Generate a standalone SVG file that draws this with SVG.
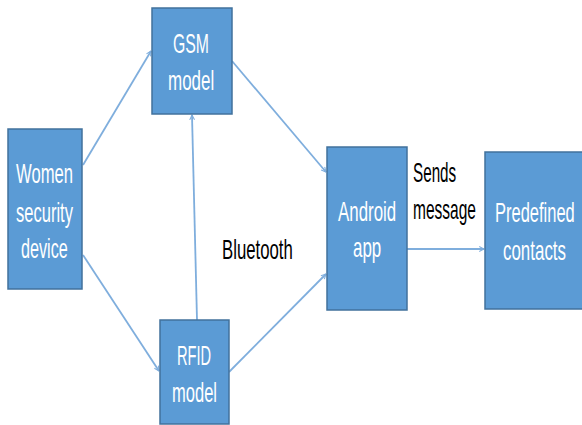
<svg xmlns="http://www.w3.org/2000/svg" width="582" height="425" viewBox="0 0 582 425">
  <style>
    .box { fill: #5B9BD5; stroke: #41719C; stroke-width: 1.5; }
    .lbl { font-family: "Liberation Sans", Arial, sans-serif; font-size: 27px; fill: #ffffff; }
    .note { font-family: "Liberation Sans", Arial, sans-serif; font-size: 27px; fill: #000000; }
    .link { stroke: #7FAEDD; stroke-width: 1.8; fill: none; marker-end: url(#tip); }
  </style>
  <defs>
    <marker id="tip" viewBox="0 0 10 10" refX="9" refY="5" markerWidth="6" markerHeight="6" markerUnits="userSpaceOnUse" orient="auto">
      <polyline points="1,1 9,5 1,9" fill="none" stroke="#7FAEDD" stroke-width="1.8"/>
    </marker>
  </defs>
  <rect width="582" height="425" fill="#ffffff"/>

  <g id="connectors">
    <line class="link" x1="83" y1="165" x2="151" y2="51"/>
    <line class="link" x1="83" y1="255" x2="159" y2="371"/>
    <line class="link" x1="197" y1="320" x2="192" y2="115"/>
    <line class="link" x1="232" y1="61" x2="326" y2="172"/>
    <line class="link" x1="229" y1="372" x2="326" y2="274"/>
    <line class="link" x1="407" y1="249" x2="484" y2="249"/>
  </g>

  <!-- labels use a condensed face: Liberation Sans squeezed to 60% width -->
  <g id="women-device">
    <rect class="box" x="8" y="129" width="74" height="160"/>
    <text class="lbl" transform="translate(16,183) scale(0.6,1)" textLength="95" lengthAdjust="spacingAndGlyphs">Women</text>
    <text class="lbl" transform="translate(16,222) scale(0.6,1)" textLength="95" lengthAdjust="spacingAndGlyphs">security</text>
    <text class="lbl" transform="translate(21,258) scale(0.6,1)" textLength="78" lengthAdjust="spacingAndGlyphs">device</text>
  </g>

  <g id="gsm-model">
    <rect class="box" x="152" y="8" width="80" height="106"/>
    <text class="lbl" transform="translate(173,53) scale(0.6,1)" textLength="60" lengthAdjust="spacingAndGlyphs">GSM</text>
    <text class="lbl" transform="translate(168,90) scale(0.6,1)" textLength="77" lengthAdjust="spacingAndGlyphs">model</text>
  </g>

  <g id="rfid-model">
    <rect class="box" x="160" y="320" width="69" height="104"/>
    <text class="lbl" transform="translate(177,365) scale(0.6,1)" textLength="57" lengthAdjust="spacingAndGlyphs">RFID</text>
    <text class="lbl" transform="translate(172,402) scale(0.6,1)" textLength="75" lengthAdjust="spacingAndGlyphs">model</text>
  </g>

  <g id="android-app">
    <rect class="box" x="327" y="147" width="80" height="163"/>
    <text class="lbl" transform="translate(338,221) scale(0.6,1)" textLength="97" lengthAdjust="spacingAndGlyphs">Android</text>
    <text class="lbl" transform="translate(353,257) scale(0.6,1)" textLength="47" lengthAdjust="spacingAndGlyphs">app</text>
  </g>

  <g id="predefined-contacts">
    <rect class="box" x="485" y="152" width="100" height="157"/>
    <text class="lbl" transform="translate(495,222) scale(0.6,1)" textLength="133" lengthAdjust="spacingAndGlyphs">Predefined</text>
    <text class="lbl" transform="translate(503,260) scale(0.6,1)" textLength="105" lengthAdjust="spacingAndGlyphs">contacts</text>
  </g>

  <g id="labels">
    <text class="note" transform="translate(222,259) scale(0.6,1)" textLength="118" lengthAdjust="spacingAndGlyphs">Bluetooth</text>
    <text class="note" transform="translate(413,182) scale(0.6,1)" textLength="72" lengthAdjust="spacingAndGlyphs">Sends</text>
    <text class="note" transform="translate(413,219) scale(0.6,1)" textLength="105" lengthAdjust="spacingAndGlyphs">message</text>
  </g>
</svg>
